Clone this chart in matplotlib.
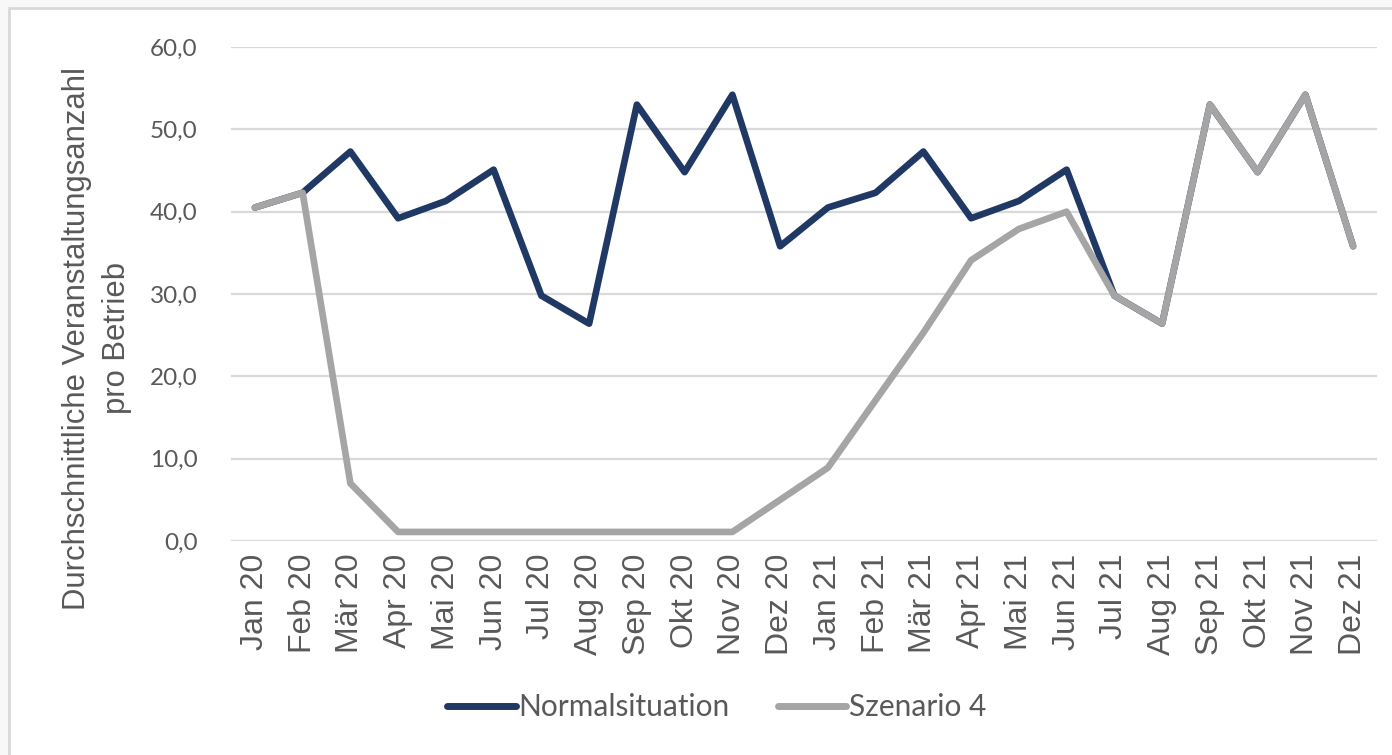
import matplotlib
matplotlib.use('Agg')
import matplotlib.pyplot as plt
from matplotlib.patches import Rectangle

# Data
months = ["Jan 20", "Feb 20", "Mär 20", "Apr 20", "Mai 20", "Jun 20",
          "Jul 20", "Aug 20", "Sep 20", "Okt 20", "Nov 20", "Dez 20",
          "Jan 21", "Feb 21", "Mär 21", "Apr 21", "Mai 21", "Jun 21",
          "Jul 21", "Aug 21", "Sep 21", "Okt 21", "Nov 21", "Dez 21"]
normal = [40.5, 42.3, 47.3, 39.2, 41.3, 45.1, 29.8, 26.4, 53.0, 44.8, 54.2, 35.8,
          40.5, 42.3, 47.3, 39.2, 41.3, 45.1, 29.8, 26.4, 53.0, 44.8, 54.2, 35.8]
szenario4 = [40.5, 42.3, 7.0, 1.1, 1.1, 1.1, 1.1, 1.1, 1.1, 1.1, 1.1, 5.0,
             8.9, 17.1, 25.3, 34.1, 37.9, 40.0, 29.8, 26.4, 53.0, 44.8, 54.2, 35.8]
yticks = [0, 10, 20, 30, 40, 50, 60]

NAVY = '#203864'
GREY = '#A5A5A5'
TEXT = '#595959'
NARROW = ['Lato', 'DejaVu Sans']

fig = plt.figure(figsize=(13.92, 7.55), dpi=100, facecolor='#f8f8f8')

# chart frame like the Excel chart area (drawn behind the axes)
frame = Rectangle((9 / 1392, -0.05), 1.05, 1 - 8 / 755 + 0.05,
                  transform=fig.transFigure, facecolor='white',
                  edgecolor='#d9d9d9', linewidth=2, zorder=-10)
fig.patches.append(frame)

ax = fig.add_axes([231 / 1392, 1 - 541 / 755, (1377 - 231) / 1392, (541 - 47) / 755])
ax.set_facecolor('none')

x = list(range(len(months)))
ax.plot(x, normal, color=NAVY, linewidth=4.8, solid_joinstyle='round',
        solid_capstyle='round', label='Normalsituation', zorder=3)
ax.plot(x, szenario4, color=GREY, linewidth=4.8, solid_joinstyle='round',
        solid_capstyle='round', label='Szenario 4', zorder=4)

ax.set_xlim(-0.5, len(months) - 0.5)
ax.set_ylim(0, 60)
ax.set_yticks(yticks)
ax.set_yticklabels([f"{v:.1f}".replace('.', ',') for v in yticks],
                   fontsize=17.5, color=TEXT, family=NARROW)
ax.set_xticks(x)
ax.set_xticklabels(months, rotation=90, fontsize=23, color=TEXT,
                   family=['Liberation Sans', 'DejaVu Sans'])
ax.tick_params(axis='both', length=0)
ax.tick_params(axis='y', pad=24)
ax.tick_params(axis='x', pad=9)

ax.grid(axis='y', color='#d9d9d9', linewidth=1.6, zorder=1)
for side in ['top', 'right', 'left', 'bottom']:
    ax.spines[side].set_visible(False)

ax.set_ylabel("Durchschnittliche Veranstaltungsanzahl\npro Betrieb",
              fontsize=22.3, color=TEXT, linespacing=1.45,
              family=['Liberation Sans', 'DejaVu Sans'])
ax.yaxis.set_label_coords(-0.086, 0.41)

leg = fig.legend(loc='center', bbox_to_anchor=(0.515, 1 - 707 / 755), ncol=2,
                 frameon=False, prop={'family': NARROW, 'size': 21.5},
                 handlelength=2.3, handletextpad=0.1, columnspacing=1.6)
for t in leg.get_texts():
    t.set_color(TEXT)
for h in leg.get_lines():
    h.set_linewidth(5)

fig.savefig('out.png', dpi=100, facecolor=fig.get_facecolor())
